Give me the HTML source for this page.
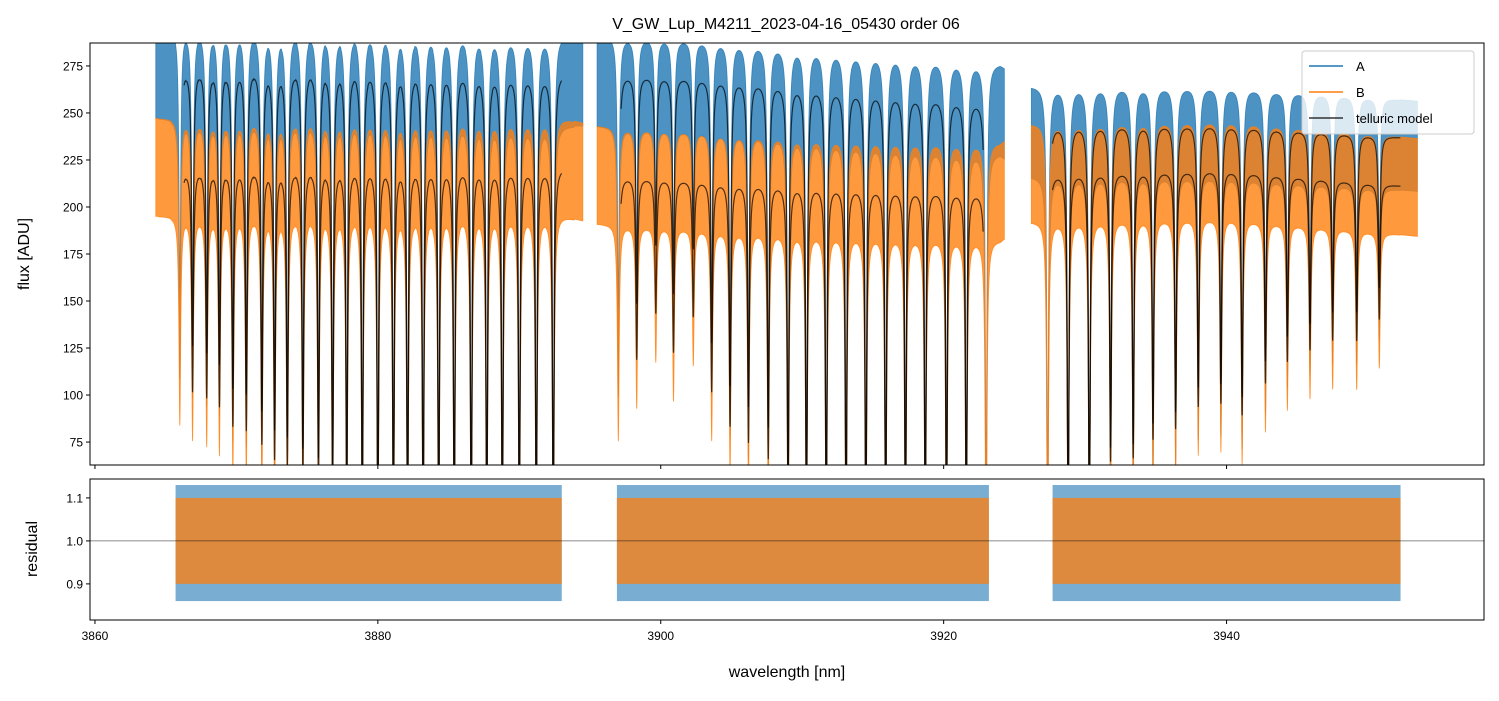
<!DOCTYPE html>
<html><head><meta charset="utf-8"><style>
body{margin:0;background:#fff;}
svg text{font-family:"Liberation Sans","DejaVu Sans",sans-serif;fill:#000;}
</style></head><body>
<svg id="chart" width="1499" height="696" viewBox="0 0 1499 696" xmlns="http://www.w3.org/2000/svg">
<defs>
<clipPath id="cTop"><rect x="90" y="43" width="1394" height="422"/></clipPath>
<clipPath id="cBot"><rect x="90" y="479" width="1394" height="141"/></clipPath>
</defs>
<rect width="1499" height="696" fill="#fff"/>
<text x="786" y="29" font-size="16" text-anchor="middle">V_GW_Lup_M4211_2023-04-16_05430  order 06</text>
<g id="gtop" clip-path="url(#cTop)"></g>
<g id="gbot" clip-path="url(#cBot)"></g>
<g id="axes"></g>
<text transform="translate(29,254) rotate(-90)" font-size="16" text-anchor="middle">flux [ADU]</text>
<text transform="translate(37,549) rotate(-90)" font-size="16" text-anchor="middle">residual</text>
<text x="787" y="677" font-size="16" text-anchor="middle">wavelength [nm]</text>
<g>
<rect x="1302" y="51" width="172" height="83" rx="3" fill="#fff" fill-opacity="0.8" stroke="#ccc"/>
<line x1="1309" y1="66" x2="1343" y2="66" stroke="#1f77b4" stroke-width="1.5"/>
<text x="1356" y="71" font-size="13">A</text>
<line x1="1309" y1="92" x2="1343" y2="92" stroke="#ff7f0e" stroke-width="1.5"/>
<text x="1356" y="97" font-size="13">B</text>
<line x1="1309" y1="118" x2="1343" y2="118" stroke="#333" stroke-width="1.5"/>
<text x="1356" y="123" font-size="13">telluric model</text>
</g>
</svg>
<script>
const lineCenters=[3866.0,3866.9,3867.9,3868.8,3869.75,3870.7,3871.8,3872.7,3873.6,3874.7,3875.8,3876.8,3877.8,3878.9,3880.0,3881.1,3882.1,3883.2,3884.3,3885.4,3886.6,3887.7,3888.8,3890.0,3891.2,3892.4,
3897.0,3898.3,3899.65,3900.9,3902.3,3903.6,3904.9,3906.2,3907.6,3909.0,3910.3,3911.7,3913.1,3914.5,3915.9,3917.3,3918.7,3920.2,3921.6,3923.0,
3927.35,3928.8,3930.3,3931.8,3933.4,3934.8,3936.4,3938.0,3939.6,3941.1,3942.75,3944.3,3945.9,3947.5,3949.2,3950.8];
const lineMins=[137,127,123,117,104,101,92,82,78,72,67,60,50,40,30,30,30,30,30,30,30,30,30,30,30,30,
127,149,180,154,178,128,105,94,83,45,35,30,30,30,30,30,30,30,30,30,
30,30,30,72,74,85,91,104,106,99,118,131,138,144,144,157];
const contWl=[3864,3880,3893,3895.5,3905,3924,3926,3940,3954];
const contA=[275,275,271,271,268,256,244,244,236];
const contB=[221,222,221,217,213,208,218,220,210];
const dataSegs=[[3864.3,3894.5],[3895.5,3924.3],[3926.2,3953.5]];
const modelSegs=[[3866.3,3893.0],[3897.2,3922.8],[3927.7,3952.3]];
const residSegs=[[3865.7,3893.0],[3896.9,3923.2],[3927.7,3952.3]];
const yTicks=[75,100,125,150,175,200,225,250,275];
const rTicks=[0.9,1.0,1.1];
const xTicks=[3860,3880,3900,3920,3940];

const X0=90,X1=1484,W0=3859.65,W1=3958.2;
const xs=w=>X0+(w-W0)/(W1-W0)*(X1-X0);
const yT=f=>43+(287.2-f)/(287.2-62.8)*422;
const yB=r=>479+(1.144-r)/(1.144-0.816)*141;
function cont(arr,w){for(let i=0;i<contWl.length-1;i++){if(w<=contWl[i+1]){const t=(w-contWl[i])/(contWl[i+1]-contWl[i]);return arr[i]+t*(arr[i+1]-arr[i]);}}return arr[arr.length-1];}
function trans(w){let p=1;const g=0.075;for(let i=0;i<lineCenters.length;i++){const d=w-lineCenters[i];if(Math.abs(d)>1.5)continue;const depth=1-lineMins[i]/cont(contA,lineCenters[i]);p*=1-depth*g*g/(d*d+g*g);}return p;}
const NS="http://www.w3.org/2000/svg";
function mk(tag,attrs,parent){const e=document.createElementNS(NS,tag);for(const k in attrs)e.setAttribute(k,attrs[k]);parent.appendChild(e);return e;}
const gTop=document.getElementById('gtop'),gBot=document.getElementById('gbot'),gAxes=document.getElementById('axes');
function band(seg,arr,up,lo,color,name){const pu=[],pl=[];for(let w=seg[0];w<=seg[1];w+=0.01){const m=cont(arr,w)*trans(w);const x=xs(w).toFixed(2);pu.push(x+','+yT(m+up).toFixed(2));pl.unshift(x+','+yT(m-lo).toFixed(2));}
const p=mk('polygon',{points:pu.concat(pl).join(' '),fill:color,'fill-opacity':0.8,stroke:color,'stroke-width':0.8,'stroke-opacity':0.8},gTop);

}
function model(seg,arr,name){const pts=[];for(let w=seg[0];w<=seg[1];w+=0.01){pts.push(xs(w).toFixed(2)+','+yT(cont(arr,w)*trans(w)).toFixed(2));}
const p=mk('polyline',{points:pts.join(' '),fill:'none',stroke:'#000','stroke-opacity':0.7,'stroke-width':1.2},gTop);

}
dataSegs.forEach((s,i)=>band(s,contA,20,28,'#1f77b4','series-a-segment-'+i));
dataSegs.forEach((s,i)=>band(s,contB,26,26,'#ff7f0e','series-b-segment-'+i));
modelSegs.forEach((s,i)=>{model(s,contA,'telluric-model-a-'+i);model(s,contB,'telluric-model-b-'+i);});
residSegs.forEach((s,i)=>{
const a=mk('rect',{x:xs(s[0]),y:yB(1.13),width:xs(s[1])-xs(s[0]),height:yB(0.86)-yB(1.13),fill:'#1f77b4','fill-opacity':0.6},gBot);


const b=mk('rect',{x:xs(s[0]),y:yB(1.1),width:xs(s[1])-xs(s[0]),height:yB(0.9)-yB(1.1),fill:'#ff7f0e','fill-opacity':0.75},gBot);

});
const rl=mk('line',{x1:X0,x2:X1,y1:yB(1),y2:yB(1),stroke:'#000','stroke-opacity':0.6,'stroke-width':0.8},gBot);


mk('rect',{x:X0,y:43,width:X1-X0,height:422,fill:'none',stroke:'#000','stroke-width':1},gAxes);
mk('rect',{x:X0,y:479,width:X1-X0,height:141,fill:'none',stroke:'#000','stroke-width':1},gAxes);
yTicks.forEach(v=>{const y=yT(v);mk('line',{x1:X0-4,x2:X0,y1:y,y2:y,stroke:'#000'},gAxes);const t=mk('text',{x:X0-7,y:y+4.5,'font-size':12,'text-anchor':'end'},gAxes);t.textContent=v;

});
rTicks.forEach(v=>{const y=yB(v);mk('line',{x1:X0-4,x2:X0,y1:y,y2:y,stroke:'#000'},gAxes);const t=mk('text',{x:X0-7,y:y+4.5,'font-size':12,'text-anchor':'end'},gAxes);t.textContent=v.toFixed(1);

});
xTicks.forEach(v=>{const x=xs(v);mk('line',{x1:x,x2:x,y1:465,y2:469,stroke:'#000'},gAxes);mk('line',{x1:x,x2:x,y1:620,y2:624,stroke:'#000'},gAxes);const t=mk('text',{x:x,y:640,'font-size':12,'text-anchor':'middle'},gAxes);t.textContent=v;

});
</script>
</body></html>
